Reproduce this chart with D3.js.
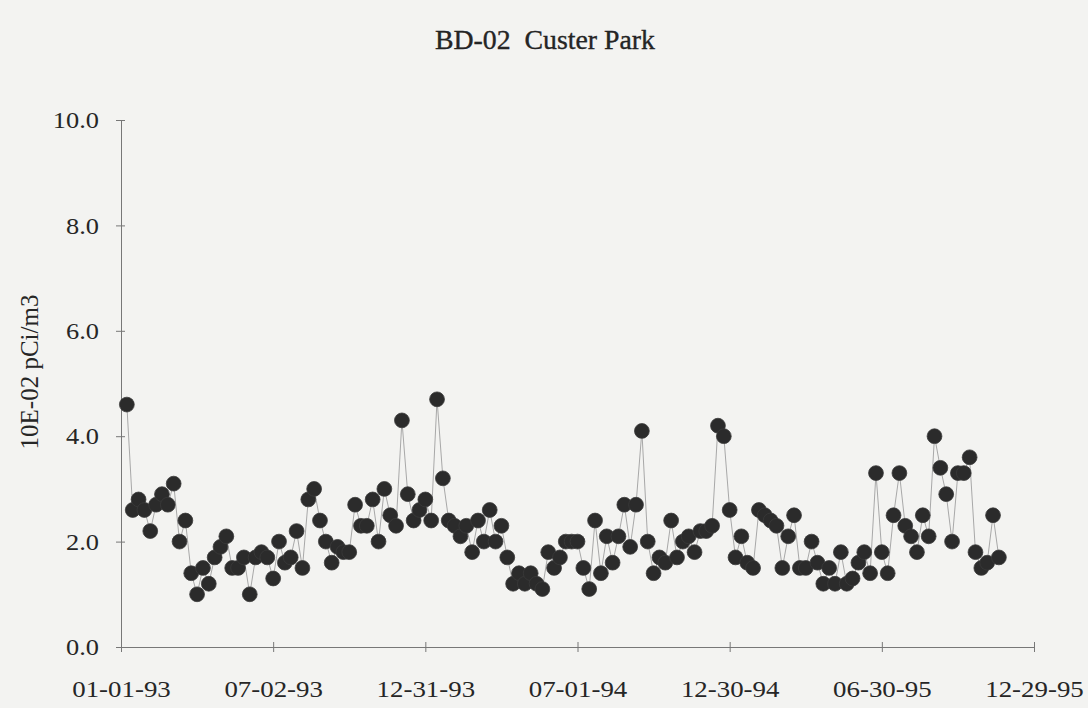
<!DOCTYPE html>
<html>
<head>
<meta charset="utf-8">
<script src="https://cdn.jsdelivr.net/npm/d3@7"></script>
<style>
  html, body { margin: 0; padding: 0; background: #f3f3f1; }
  svg { display: block; }
  text { font-family: "Liberation Serif", "DejaVu Serif", serif; fill: #262626; }
</style>
</head>
<body>
<svg id="chart" width="1088" height="708"></svg>
<script>
const title = "BD-02\u00a0 Custer Park";
const yLabel = "10E-02 pCi/m3";
const yTicks = [0, 2, 4, 6, 8, 10];
const xTickLabels = ["01-01-93", "07-02-93", "12-31-93", "07-01-94", "12-30-94", "06-30-95", "12-29-95"];

const sampleDates = [
  "01-08-93","01-15-93","01-22-93","01-29-93","02-05-93","02-12-93","02-19-93","02-26-93",
  "03-05-93","03-12-93","03-19-93","03-26-93","04-02-93","04-09-93","04-16-93","04-23-93","04-30-93",
  "05-07-93","05-14-93","05-21-93","05-28-93","06-04-93","06-11-93","06-18-93","06-25-93",
  "07-02-93","07-09-93","07-16-93","07-23-93","07-30-93","08-06-93","08-13-93","08-20-93","08-27-93",
  "09-03-93","09-10-93","09-17-93","09-24-93","10-01-93","10-08-93","10-15-93","10-22-93","10-29-93",
  "11-05-93","11-12-93","11-19-93","11-26-93","12-03-93","12-10-93","12-17-93","12-24-93","12-31-93",
  "01-07-94","01-14-94","01-21-94","01-28-94","02-04-94","02-11-94","02-18-94","02-25-94",
  "03-04-94","03-11-94","03-18-94","03-25-94","04-01-94","04-08-94","04-15-94","04-22-94","04-29-94",
  "05-06-94","05-13-94","05-20-94","05-27-94","06-03-94","06-10-94","06-17-94","06-24-94",
  "07-01-94","07-08-94","07-15-94","07-22-94","07-29-94","08-05-94","08-12-94","08-19-94","08-26-94",
  "09-02-94","09-09-94","09-16-94","09-23-94","09-30-94","10-07-94","10-14-94","10-21-94","10-28-94",
  "11-04-94","11-11-94","11-18-94","11-25-94","12-02-94","12-09-94","12-16-94","12-23-94","12-30-94",
  "01-06-95","01-13-95","01-20-95","01-27-95","02-03-95","02-10-95","02-17-95","02-24-95",
  "03-03-95","03-10-95","03-17-95","03-24-95","03-31-95","04-07-95","04-14-95","04-21-95","04-28-95",
  "05-05-95","05-12-95","05-19-95","05-26-95","06-02-95","06-09-95","06-16-95","06-23-95","06-30-95",
  "07-07-95","07-14-95","07-21-95","07-28-95","08-04-95","08-11-95","08-18-95","08-25-95",
  "09-01-95","09-08-95","09-15-95","09-22-95","09-29-95","10-06-95","10-13-95","10-20-95","10-27-95",
  "11-03-95","11-10-95","11-17-95"
];

const values = [
  4.6,2.6,2.8,2.6,2.2,2.7,2.9,2.7,3.1,2.0,
  2.4,1.4,1.0,1.5,1.2,1.7,1.9,2.1,1.5,1.5,
  1.7,1.0,1.7,1.8,1.7,1.3,2.0,1.6,1.7,2.2,
  1.5,2.8,3.0,2.4,2.0,1.6,1.9,1.8,1.8,2.7,
  2.3,2.3,2.8,2.0,3.0,2.5,2.3,4.3,2.9,2.4,
  2.6,2.8,2.4,4.7,3.2,2.4,2.3,2.1,2.3,1.8,
  2.4,2.0,2.6,2.0,2.3,1.7,1.2,1.4,1.2,1.4,
  1.2,1.1,1.8,1.5,1.7,2.0,2.0,2.0,1.5,1.1,
  2.4,1.4,2.1,1.6,2.1,2.7,1.9,2.7,4.1,2.0,
  1.4,1.7,1.6,2.4,1.7,2.0,2.1,1.8,2.2,2.2,
  2.3,4.2,4.0,2.6,1.7,2.1,1.6,1.5,2.6,2.5,
  2.4,2.3,1.5,2.1,2.5,1.5,1.5,2.0,1.6,1.2,
  1.5,1.2,1.8,1.2,1.3,1.6,1.8,1.4,3.3,1.8,
  1.4,2.5,3.3,2.3,2.1,1.8,2.5,2.1,4.0,3.4,
  2.9,2.0,3.3,3.3,3.6,1.8,1.5,1.6,2.5,1.7
];

const parse = d3.timeParse("%m-%d-%y");
const fmt = d3.timeFormat("%m-%d-%y");
const data = sampleDates.map((d, i) => ({ date: parse(d), value: values[i] }));
const xTickDates = xTickLabels.map(parse);

const svg = d3.select("#chart");
const x = d3.scaleTime().domain([xTickDates[0], xTickDates[xTickDates.length - 1]]).range([121, 1034]);
const y = d3.scaleLinear().domain([0, 10]).range([647, 120]);

// title
svg.append("text")
  .attr("transform", "translate(545,49) scale(1.03,1)")
  .attr("text-anchor", "middle")
  .attr("font-size", 27)
  .attr("fill", "#1c1c1c")
  .attr("stroke", "#1c1c1c")
  .attr("stroke-width", 0.35)
  .text(title);

// y axis label
svg.append("text")
  .attr("transform", "translate(38,372) rotate(-90)")
  .attr("text-anchor", "middle")
  .attr("font-size", 25)
  .text(yLabel);

// y axis
const yAxis = svg.append("g")
  .attr("transform", "translate(121,0)")
  .call(d3.axisLeft(y).tickValues(yTicks).tickFormat(d3.format(".1f")).tickSize(0).tickPadding(20));
yAxis.select(".domain").attr("stroke", "#777").attr("stroke-width", 1);
yAxis.selectAll(".tick line").attr("x1", -5).attr("x2", 4).attr("stroke", "#777");
yAxis.selectAll(".tick text")
  .attr("font-size", 24)
  .attr("fill", "#262626")
  .attr("font-family", "Liberation Serif, serif")
  .attr("transform", "scale(1.1,1)");

// x axis
const xAxis = svg.append("g")
  .attr("transform", "translate(0,647)")
  .call(d3.axisBottom(x).tickValues(xTickDates).tickFormat(fmt).tickSize(0).tickPadding(33));
xAxis.select(".domain").attr("stroke", "#777").attr("stroke-width", 1);
xAxis.selectAll(".tick line").attr("y1", -5).attr("y2", 5).attr("stroke", "#777");
xAxis.selectAll(".tick text")
  .attr("font-size", 24)
  .attr("fill", "#262626")
  .attr("font-family", "Liberation Serif, serif")
  .attr("transform", "scale(1.12,1)");

// connecting line
svg.append("path")
  .datum(data)
  .attr("fill", "none")
  .attr("stroke", "#a8a8a8")
  .attr("stroke-width", 1)
  .attr("d", d3.line().x(d => x(d.date)).y(d => y(d.value)));

// points
svg.append("g")
  .selectAll("circle")
  .data(data)
  .join("circle")
  .attr("cx", d => x(d.date))
  .attr("cy", d => y(d.value))
  .attr("r", 7.4)
  .attr("fill", "#2b2b2b")
  .attr("stroke", "#3a3a3a")
  .attr("stroke-width", 0.8);
</script>
</body>
</html>
